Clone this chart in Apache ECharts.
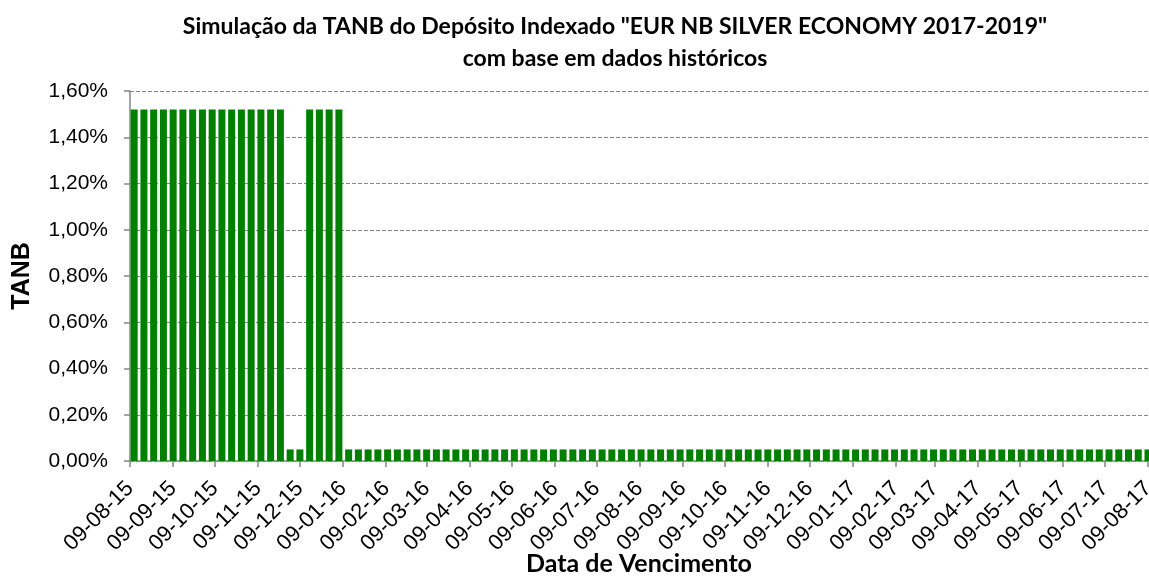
<!DOCTYPE html>
<html>
<head>
<meta charset="utf-8">
<script src="https://cdn.jsdelivr.net/npm/echarts@6/dist/echarts.min.js"></script>
<style>
  html, body { margin: 0; padding: 0; background: #fff; }
  #chart { width: 1149px; height: 582px; }
</style>
</head>
<body>
<div id="chart"></div>
<script>
// datas de vencimento (semanais)
var dates = [
    '2015-08-12', '2015-08-19', '2015-08-26', '2015-09-02', '2015-09-09', '2015-09-16', '2015-09-23', '2015-09-30',
    '2015-10-07', '2015-10-14', '2015-10-21', '2015-10-28', '2015-11-04', '2015-11-11', '2015-11-18', '2015-11-25',
    '2015-12-02', '2015-12-09', '2015-12-16', '2015-12-23', '2015-12-30',
    '2016-01-06', '2016-01-13', '2016-01-20', '2016-01-27', '2016-02-03', '2016-02-10', '2016-02-17', '2016-02-24',
    '2016-03-02', '2016-03-09', '2016-03-16', '2016-03-23', '2016-03-30', '2016-04-06', '2016-04-13', '2016-04-20',
    '2016-04-27', '2016-05-04', '2016-05-11', '2016-05-18', '2016-05-25', '2016-06-01', '2016-06-08', '2016-06-15',
    '2016-06-22', '2016-06-29', '2016-07-06', '2016-07-13', '2016-07-20', '2016-07-27', '2016-08-03', '2016-08-10',
    '2016-08-17', '2016-08-24', '2016-08-31', '2016-09-07', '2016-09-14', '2016-09-21', '2016-09-28', '2016-10-05',
    '2016-10-12', '2016-10-19', '2016-10-26', '2016-11-02', '2016-11-09', '2016-11-16', '2016-11-23', '2016-11-30',
    '2016-12-07', '2016-12-14', '2016-12-21', '2016-12-28',
    '2017-01-04', '2017-01-11', '2017-01-18', '2017-01-25', '2017-02-01', '2017-02-08', '2017-02-15', '2017-02-22',
    '2017-03-01', '2017-03-08', '2017-03-15', '2017-03-22', '2017-03-29', '2017-04-05', '2017-04-12', '2017-04-19',
    '2017-04-26', '2017-05-03', '2017-05-10', '2017-05-17', '2017-05-24', '2017-05-31', '2017-06-07', '2017-06-14',
    '2017-06-21', '2017-06-28', '2017-07-05', '2017-07-12', '2017-07-19', '2017-07-26', '2017-08-02', '2017-08-09'
]

// TANB (%)
var tanb = [
    1.52, 1.52, 1.52, 1.52, 1.52, 1.52, 1.52, 1.52, 1.52, 1.52, 1.52, 1.52, 1.52, 1.52, 1.52, 1.52,
    0.05, 0.05, 1.52, 1.52, 1.52, 1.52,
    0.05, 0.05, 0.05, 0.05, 0.05, 0.05, 0.05, 0.05, 0.05, 0.05, 0.05, 0.05, 0.05, 0.05, 0.05, 0.05,
    0.05, 0.05, 0.05, 0.05, 0.05, 0.05, 0.05, 0.05, 0.05, 0.05, 0.05, 0.05, 0.05, 0.05, 0.05, 0.05,
    0.05, 0.05, 0.05, 0.05, 0.05, 0.05, 0.05, 0.05, 0.05, 0.05, 0.05, 0.05, 0.05, 0.05, 0.05, 0.05,
    0.05, 0.05, 0.05, 0.05, 0.05, 0.05, 0.05, 0.05, 0.05, 0.05, 0.05, 0.05, 0.05, 0.05, 0.05, 0.05,
    0.05, 0.05, 0.05, 0.05, 0.05, 0.05, 0.05, 0.05, 0.05, 0.05, 0.05, 0.05, 0.05, 0.05, 0.05, 0.05,
    0.05, 0.05, 0.05, 0.05, 0.05
]

// marcas do eixo x (dia 9 de cada mes)
var tickDates = [
    '2015-08-09', '2015-09-09', '2015-10-09', '2015-11-09', '2015-12-09',
    '2016-01-09', '2016-02-09', '2016-03-09', '2016-04-09', '2016-05-09', '2016-06-09',
    '2016-07-09', '2016-08-09', '2016-09-09', '2016-10-09', '2016-11-09', '2016-12-09',
    '2017-01-09', '2017-02-09', '2017-03-09', '2017-04-09', '2017-05-09', '2017-06-09',
    '2017-07-09', '2017-08-09'
]

var yTicks = [0, 0.2, 0.4, 0.6, 0.8, 1.0, 1.2, 1.4, 1.6]

var DAY = 86400000
var origin = Date.parse(tickDates[0])

function dayOf(s) {
    return Math.round((Date.parse(s) - origin) / DAY)
}

var tickDays = tickDates.map(dayOf)
var seriesData = dates.map(function(d, i) {
    return [dayOf(d), tanb[i]]
})

function fmtTick(v) {
    var i = tickDays.indexOf(Math.round(v))
    if (i < 0) return ''
    var p = tickDates[i].split('-')
    return p[2] + '-' + p[1] + '-' + p[0].slice(2)
}

var chart = echarts.init(document.getElementById('chart'), null, { renderer: 'canvas' })

var axisColor = '#868686'

chart.setOption({
    animation: false,
    title: {
        text: 'Simulação da TANB do Depósito Indexado "EUR NB SILVER ECONOMY 2017-2019"\ncom base em dados históricos',
        left: 610,
        top: 6,
        textAlign: 'center',
        textStyle: {
            fontFamily: 'Lato',
            fontWeight: 'bold',
            fontSize: 23,
            lineHeight: 32,
            color: '#000'
        }
    },
    grid: {
        left: 130,
        right: 1,
        top: 91,
        bottom: 121,
        outerBoundsMode: 'none'
    },
    xAxis: {
        type: 'value',
        min: 0,
        max: tickDays[tickDays.length - 1],
        name: 'Data de Vencimento',
        nameLocation: 'middle',
        nameGap: 90,
        nameMoveOverlap: false,
        nameTextStyle: {
            fontFamily: 'Lato',
            fontWeight: 'bold',
            fontSize: 25,
            color: '#000'
        },
        axisLine: { show: true, lineStyle: { color: axisColor, width: 1.5 } },
        axisTick: {
            show: true,
            length: 6,
            customValues: tickDays,
            lineStyle: { color: axisColor, width: 1.5 }
        },
        axisLabel: {
            customValues: tickDays,
            rotate: 45,
            margin: 24,
            fontFamily: 'Liberation Sans',
            fontSize: 22,
            color: '#000',
            formatter: fmtTick
        },
        splitLine: { show: false }
    },
    yAxis: {
        type: 'value',
        min: yTicks[0],
        max: yTicks[yTicks.length - 1],
        interval: 0.2,
        name: 'TANB',
        nameLocation: 'middle',
        nameRotate: 90,
        nameGap: 95,
        nameTextStyle: {
            fontFamily: 'Liberation Sans',
            fontWeight: 'bold',
            fontSize: 25,
            color: '#000'
        },
        axisLine: { show: true, lineStyle: { color: axisColor, width: 1.5 } },
        axisTick: {
            show: true,
            length: 6,
            lineStyle: { color: axisColor, width: 1.5 }
        },
        axisLabel: {
            margin: 22,
            fontFamily: 'Liberation Sans',
            fontSize: 21,
            color: '#000',
            formatter: function(v) {
                return v.toFixed(2).replace('.', ',') + '%'
            }
        },
        splitLine: {
            show: true,
            lineStyle: { color: axisColor, type: [4, 2], width: 1 }
        }
    },
    series: [{
        name: 'TANB',
        type: 'bar',
        barWidth: 7,
        itemStyle: { color: '#008000' },
        data: seriesData
    }]
})
</script>
</body>
</html>
